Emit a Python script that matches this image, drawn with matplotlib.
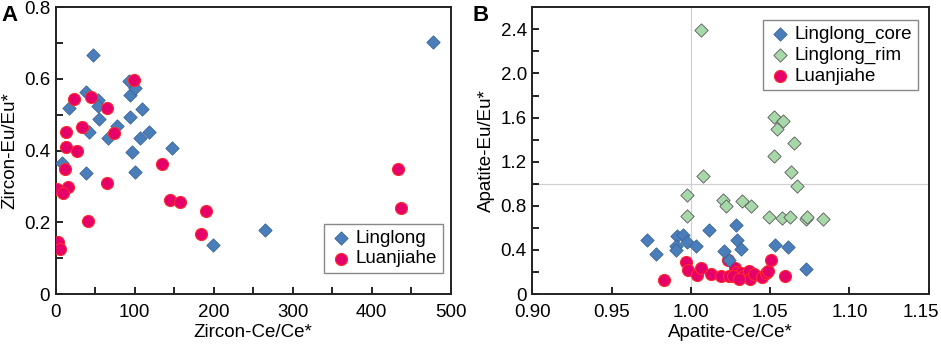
import matplotlib as mpl
from matplotlib import pyplot as plt
from matplotlib.ticker import MultipleLocator, FuncFormatter
from matplotlib.transforms import ScaledTranslation

plt.rcParams['font.family'] = ['Liberation Sans', 'DejaVu Sans']
plt.rcParams['font.size'] = 13.5

# panel A: zircon
zr_linglong_ce = [477.7, 46.8, 8.0, 38.4, 38.4, 17.3, 42.6, 53.0, 53.0, 55.0, 66.6, 78.0,
                  94.0, 94.0, 93.0, 100.0, 97.0, 100.0, 106.7, 109.6, 118.5, 146.7, 199.4, 264.8]
zr_linglong_eu = [0.704, 0.667, 0.365, 0.337, 0.565, 0.520, 0.452, 0.542, 0.525, 0.488, 0.435, 0.469,
                  0.495, 0.554, 0.595, 0.574, 0.396, 0.340, 0.435, 0.517, 0.453, 0.407, 0.1375, 0.179]
zr_luan_ce = [433.8, 437.6, 99.5, 23.2, 44.3, 64.5, 33.0, 73.8, 13.5, 13.5, 27.4, 12.2,
              134.0, 2.1, 15.2, 9.7, 64.5, 144.6, 157.3, 190.6, 184.2, 40.5, 3.0, 5.5]
zr_luan_eu = [0.349, 0.240, 0.596, 0.544, 0.551, 0.519, 0.466, 0.449, 0.452, 0.409, 0.400, 0.349,
              0.363, 0.294, 0.299, 0.282, 0.311, 0.261, 0.256, 0.233, 0.168, 0.205, 0.145, 0.125]

# panel B: apatite
ap_core_ce = [0.9725, 0.978, 0.9915, 0.9952, 0.9904, 0.9906, 0.9973, 1.0032, 1.0117,
              1.0283, 1.0293, 1.0314, 1.0209, 1.0243, 1.0531, 1.0611, 1.0726]
ap_core_eu = [0.487, 0.363, 0.530, 0.539, 0.433, 0.396, 0.469, 0.433, 0.584,
              0.623, 0.493, 0.409, 0.387, 0.312, 0.442, 0.427, 0.227]
ap_rim_ce = [1.0064, 1.0079, 0.9973, 0.9978, 1.020, 1.0222, 1.032, 1.0379, 1.0524, 1.0579, 1.0545,
             1.0524, 1.065, 1.0632, 1.0667, 1.0493, 1.0573, 1.0625, 1.0726, 1.0735, 1.0836]
ap_rim_eu = [2.394, 1.074, 0.902, 0.711, 0.850, 0.796, 0.841, 0.802, 1.607, 1.568, 1.492,
             1.256, 1.371, 1.105, 0.978, 0.699, 0.690, 0.699, 0.681, 0.699, 0.681]
ap_luan_ce = [0.9833, 0.9969, 0.9984, 1.0037, 1.0066, 1.0125, 1.0188, 1.0243, 1.0236, 1.0278,
              1.0289, 1.0314, 1.0331, 1.0369, 1.0374, 1.0398, 1.0449, 1.0474, 1.0489, 1.0505,
              1.0594, 1.0268, 1.0306]
ap_luan_eu = [0.124, 0.288, 0.221, 0.176, 0.236, 0.185, 0.166, 0.166, 0.306, 0.236,
              0.197, 0.191, 0.160, 0.206, 0.136, 0.185, 0.154, 0.191, 0.206, 0.306,
              0.166, 0.167, 0.140]

blue, blue_edge = '#4a7ebb', '#3b6597'
green, green_edge = '#a6d8aa', '#5a5a5a'
red, red_edge = '#e6006a', '#ff2a2a'

def fmt(v, nd):
    return '0' if abs(v) < 1e-9 else f'{v:.{nd}f}'

def style(ax):
    for s in ax.spines.values():
        s.set_linewidth(1.4)
        s.set_color('#222222')
    ax.tick_params(which='both', direction='in', length=5, width=1.2, top=False, right=False)
    ax.tick_params(axis='x', pad=7)
    ax.tick_params(axis='y', pad=4)

fig = plt.figure(figsize=(9.41, 3.44), dpi=100)
axA = fig.add_axes([0.0592, 0.1453, 0.4198, 0.8335])
axB = fig.add_axes([0.5657, 0.1453, 0.4212, 0.8335])

# A
axA.scatter(zr_linglong_ce, zr_linglong_eu, marker='D', s=46, c=blue, edgecolors=blue_edge,
            linewidths=0.6, label='Linglong', zorder=3)
axA.scatter(zr_luan_ce, zr_luan_eu, marker='o', s=75, c=red, edgecolors=red_edge,
            linewidths=0.8, label='Luanjiahe', zorder=4)
axA.set_xlim(0, 500)
axA.set_ylim(0, 0.8)
axA.xaxis.set_major_locator(MultipleLocator(100))
axA.xaxis.set_minor_locator(MultipleLocator(50))
axA.yaxis.set_major_locator(MultipleLocator(0.2))
axA.yaxis.set_minor_locator(MultipleLocator(0.1))
axA.yaxis.set_major_formatter(FuncFormatter(lambda v, p: fmt(v, 1)))
axA.set_xlabel('Zircon-Ce/Ce*', labelpad=2)
axA.set_ylabel('Zircon-Eu/Eu*', labelpad=4)
style(axA)
axA.legend(loc='lower right', bbox_to_anchor=(0.98, 0.073), borderaxespad=0, fancybox=False,
           edgecolor='#888888', framealpha=1, handletextpad=0.2, labelspacing=0.2,
           borderpad=0.3, handlelength=1.2)

# B
axB.axvline(1.0, color='#d0d0d0', lw=0.9, zorder=1)
axB.axhline(1.0, color='#d0d0d0', lw=0.9, zorder=1)
axB.scatter(ap_core_ce, ap_core_eu, marker='D', s=46, c=blue, edgecolors=blue_edge,
            linewidths=0.6, label='Linglong_core', zorder=4)
axB.scatter(ap_rim_ce, ap_rim_eu, marker='D', s=46, c=green, edgecolors=green_edge,
            linewidths=0.6, label='Linglong_rim', zorder=4)
axB.scatter(ap_luan_ce, ap_luan_eu, marker='o', s=75, c=red, edgecolors=red_edge,
            linewidths=0.8, label='Luanjiahe', zorder=3)
axB.set_xlim(0.90, 1.15)
axB.set_ylim(0, 2.6)
axB.xaxis.set_major_locator(MultipleLocator(0.05))
axB.xaxis.set_major_formatter(FuncFormatter(lambda v, p: f'{v:.2f}'))
axB.yaxis.set_major_locator(MultipleLocator(0.4))
axB.yaxis.set_minor_locator(MultipleLocator(0.2))
axB.yaxis.set_major_formatter(FuncFormatter(lambda v, p: fmt(v, 1)))
axB.set_xlabel('Apatite-Ce/Ce*', labelpad=2)
axB.set_ylabel('Apatite-Eu/Eu*', labelpad=4)
style(axB)
axB.legend(loc='upper right', bbox_to_anchor=(0.973, 0.956), borderaxespad=0, fancybox=False,
           edgecolor='#888888', framealpha=1, handletextpad=0.2, labelspacing=0.2,
           borderpad=0.3, handlelength=1.2)

fig.text(0.002, 0.955, 'A', fontsize=16, fontweight='bold', va='center')
fig.text(0.502, 0.955, 'B', fontsize=16, fontweight='bold', va='center')

# the last x label in B sits a bit left so it stays inside the figure
fig.canvas.draw()
last = axB.xaxis.get_major_ticks()[-1].label1
for t in axB.xaxis.get_major_ticks():
    if abs(t.get_loc() - 1.15) < 1e-6:
        last = t.label1
last.set_transform(last.get_transform() + ScaledTranslation(-8 / 100, 0, fig.dpi_scale_trans))

fig.savefig('out.png', dpi=100)
